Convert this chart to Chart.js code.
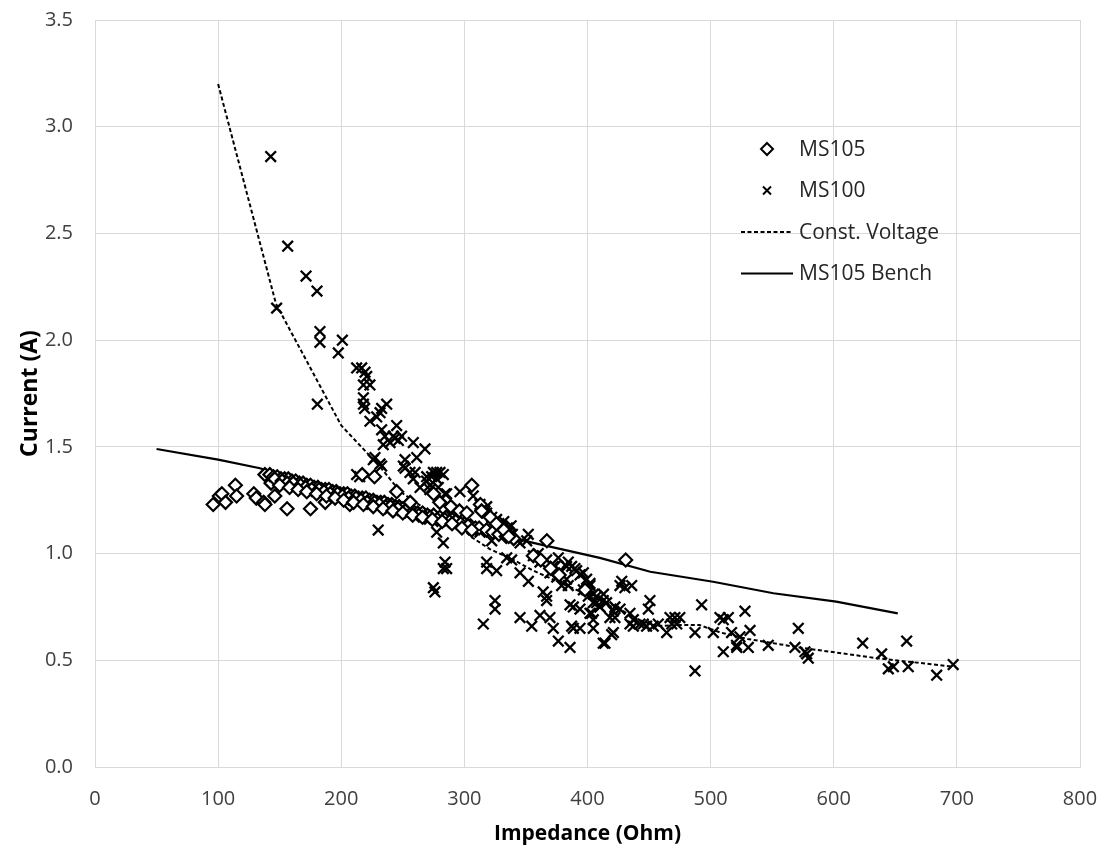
<!DOCTYPE html>
<html>
<head>
<meta charset="utf-8">
<title>Current vs Impedance</title>
<script src="https://cdn.jsdelivr.net/npm/chart.js@4.4.1/dist/chart.umd.min.js"></script>
<style>
  body { margin: 0; background: #fff; }
  #wrap { width: 1106px; height: 850px; }
</style>
</head>
<body>
<div id="wrap"><canvas id="mycanvas" width="1106" height="850"></canvas></div>
<script>
// MS105 field readings: impedance (Ohm) and current (A)
var ms105_x = [96, 101, 103, 106, 114, 115, 129, 131, 137, 138, 138, 143, 146, 156, 175, 187, 207,
  142, 145, 148, 151, 154, 157, 160, 163, 166, 169, 172, 175, 178, 181, 184, 187, 190, 193, 196, 199,
  202, 205, 208, 211, 214, 217, 220, 223, 226, 229, 232, 235, 238, 241, 244, 247, 250, 254, 258, 262,
  266, 270, 275, 280, 285, 290, 295, 300, 305,
  146, 152, 156, 161, 167, 171, 176, 182, 186, 191, 197, 201, 206, 212, 216, 221, 227, 231, 236, 240,
  246, 252, 257, 263, 268, 272, 278, 284, 288, 293, 297, 303, 309, 312, 318, 323, 328, 334, 340,
  150, 158, 165, 172, 180, 188, 195, 202, 210, 218, 226, 234, 242, 250, 258, 266, 274, 282, 290, 298, 306,
  217, 227, 245, 256, 275, 280, 289, 296, 302, 306, 313, 314, 321, 326, 332, 336,
  356, 362, 367, 370, 377, 398, 431];
var ms105_y = [1.23, 1.27, 1.28, 1.24, 1.32, 1.27, 1.28, 1.26, 1.24, 1.23, 1.37, 1.33, 1.27, 1.21, 1.21, 1.24, 1.23,
  1.37, 1.36, 1.36, 1.35, 1.35, 1.35, 1.34, 1.34, 1.33, 1.33, 1.32, 1.32, 1.31, 1.31, 1.30, 1.30, 1.30, 1.29, 1.29, 1.28,
  1.28, 1.28, 1.27, 1.27, 1.26, 1.26, 1.26, 1.25, 1.25, 1.24, 1.24, 1.24, 1.23, 1.23, 1.22, 1.22, 1.21, 1.21, 1.20, 1.19,
  1.19, 1.18, 1.18, 1.17, 1.17, 1.16, 1.15, 1.14, 1.13,
  1.35, 1.34, 1.33, 1.33, 1.32, 1.31, 1.30, 1.30, 1.29, 1.28, 1.28, 1.27, 1.26, 1.26, 1.25, 1.24, 1.24, 1.23, 1.22, 1.22,
  1.21, 1.20, 1.19, 1.18, 1.17, 1.17, 1.16, 1.16, 1.15, 1.15, 1.14, 1.13, 1.12, 1.12, 1.11, 1.10, 1.09, 1.08, 1.07,
  1.32, 1.31, 1.30, 1.29, 1.28, 1.27, 1.26, 1.25, 1.24, 1.23, 1.22, 1.21, 1.20, 1.19, 1.18, 1.17, 1.16, 1.15, 1.14, 1.12, 1.11,
  1.37, 1.36, 1.29, 1.24, 1.28, 1.24, 1.22, 1.20, 1.19, 1.32, 1.23, 1.20, 1.17, 1.14, 1.11, 1.08,
  0.99, 0.97, 1.06, 0.93, 0.90, 0.83, 0.97];

// MS100 field readings
var ms100_x = [142.7, 147.5, 156.5, 171.4, 180.3, 180.6, 182.7, 182.7, 197.6, 200.9, 212.5, 216.6, 219.3, 220.7,
  218, 223.3, 218, 218, 219, 223.3, 236.9, 232.8, 231.5, 228.8, 232.8, 235.5, 245, 243.6, 234.1, 239.6,
  242.3, 246.4, 249, 258.5, 268, 261.3, 226, 227.4, 232.8, 251.8, 251.8, 260, 277.5, 282.9, 273.4, 269.3,
  264, 285.6, 272, 278.8, 212.5, 215, 231.5, 250.4, 255.8, 258.5, 269.4, 274.8, 277.5, 272, 280.2, 284.3,
  296.4, 230, 277.5, 282.9, 284.3, 282.9, 285.6, 274.8, 276.1,
  307.2, 312.7, 316.7, 322.2, 326.2, 330.3, 334.4, 337, 318.1, 318.1, 312.7, 322.2, 328, 331, 333, 336, 339,
  335, 332, 338, 345.2, 350.6, 351.9, 318.1, 326.2, 318.1, 334.4, 338.4, 324.9, 324.9, 315.4, 345.2, 352,
  356, 361.4, 366.8, 372.2, 377.7, 364, 366.8, 361.4, 369.5, 345.2, 354.7, 372.2, 376.3, 385.8, 383, 391.2,
  396.6, 402, 385.8, 388.5, 393.9, 399.3, 404.7, 402, 388.5, 393.9, 404.7, 360, 376.3, 373.6, 369.5, 375,
  384.4, 387.1, 389.8, 393.9, 383, 379, 384.4, 366.8, 399.3, 402, 396.6, 400.6, 404.7, 407.4, 412.8, 410.1,
  415.5, 421, 418.2, 403.3, 404.7, 412.8, 421, 387.1, 427.8, 430.4, 435.9, 426.4, 413, 407.4, 410, 414.2,
  419.6, 422.3, 426.4, 422.3, 434.5, 437.2, 434.5, 437.2, 442.6, 450.7, 449.4, 445.3, 448, 453.4, 457.5,
  464.3, 467, 471, 475, 468.4, 472.5, 492.7, 487.3, 502.2, 507.6, 510.3, 514.4, 510.3, 517, 521, 527.9,
  523.8, 532, 530.6, 521.2, 546.8, 571.2, 568.5, 576.6, 579.3, 578, 623.5, 638.9, 644.3, 648.4, 659.2,
  660.5, 683.6, 697, 487.3];
var ms100_y = [2.86, 2.15, 2.44, 2.30, 2.23, 1.70, 2.04, 1.99, 1.94, 2.00, 1.87, 1.87, 1.85, 1.83,
  1.79, 1.79, 1.73, 1.70, 1.68, 1.62, 1.70, 1.68, 1.66, 1.64, 1.58, 1.55, 1.60, 1.54, 1.51, 1.52,
  1.55, 1.53, 1.55, 1.52, 1.49, 1.45, 1.44, 1.45, 1.41, 1.44, 1.40, 1.38, 1.38, 1.37, 1.36, 1.34,
  1.31, 1.28, 1.30, 1.31, 1.37, 1.36, 1.42, 1.41, 1.38, 1.35, 1.36, 1.38, 1.35, 1.32, 1.38, 1.28,
  1.29, 1.11, 1.10, 1.05, 0.96, 0.93, 0.93, 0.84, 0.82,
  1.27, 1.23, 1.20, 1.17, 1.16, 1.13, 1.10, 1.09, 1.22, 1.19, 1.10, 1.06, 1.14, 1.12, 1.11, 1.10, 1.09,
  1.12, 1.15, 1.13, 1.05, 1.06, 1.09, 0.96, 0.92, 0.93, 0.98, 0.97, 0.78, 0.74, 0.67, 0.91, 0.87,
  0.99, 0.96, 0.97, 0.94, 0.92, 0.82, 0.78, 0.71, 0.70, 0.70, 0.66, 0.65, 0.59, 0.56, 0.94, 0.92,
  0.91, 0.86, 0.76, 0.75, 0.74, 0.83, 0.77, 0.72, 0.65, 0.65, 0.65, 1.00, 0.98, 0.94, 0.91, 0.89,
  0.96, 0.94, 0.93, 0.90, 0.88, 0.85, 0.85, 0.80, 0.88, 0.85, 0.83, 0.80, 0.81, 0.80, 0.78, 0.75,
  0.77, 0.73, 0.70, 0.72, 0.69, 0.58, 0.63, 0.66, 0.87, 0.84, 0.85, 0.85, 0.81, 0.77, 0.75, 0.58,
  0.62, 0.75, 0.74, 0.70, 0.72, 0.69, 0.67, 0.66, 0.67, 0.78, 0.74, 0.67, 0.66, 0.66, 0.67,
  0.63, 0.70, 0.70, 0.70, 0.67, 0.67, 0.76, 0.63, 0.63, 0.70, 0.69, 0.70, 0.54, 0.63, 0.57, 0.73,
  0.61, 0.64, 0.56, 0.56, 0.57, 0.65, 0.56, 0.54, 0.51, 0.53, 0.58, 0.53, 0.46, 0.47, 0.59,
  0.47, 0.43, 0.48, 0.45];

// constant voltage model curve
var cv_x = [100, 147, 200, 231, 248, 268, 291, 305, 321, 340, 356, 383, 407, 424, 437, 456, 475, 491, 508, 530, 572, 635, 697];
var cv_y = [3.20, 2.17, 1.60, 1.41, 1.29, 1.21, 1.16, 1.08, 1.02, 0.97, 0.92, 0.85, 0.79, 0.75, 0.70, 0.66, 0.665, 0.665, 0.63, 0.60, 0.56, 0.51, 0.47];

// MS105 bench measurement
var bench_x = [50, 100, 134, 150, 200, 250, 300, 356, 410, 451, 502, 551, 602, 652];
var bench_y = [1.49, 1.44, 1.40, 1.37, 1.30, 1.22, 1.13, 1.05, 0.98, 0.915, 0.868, 0.814, 0.775, 0.72];

var xTicks = [0, 100, 200, 300, 400, 500, 600, 700, 800];
var yTicks = [0, 0.5, 1.0, 1.5, 2.0, 2.5, 3.0, 3.5];

function toPoints(xs, ys) {
  var pts = [];
  for (var i = 0; i < xs.length; i++) pts.push({x: xs[i], y: ys[i]});
  return pts;
}

var legendItems = [
  {label: "MS105", kind: "diamond"},
  {label: "MS100", kind: "cross"},
  {label: "Const. Voltage", kind: "dash"},
  {label: "MS105 Bench", kind: "line"}
];

// legend sits inside the plot, upper right
var boxLegend = {
  id: 'boxLegend',
  afterDraw: function(chart) {
    var ctx = chart.ctx;
    var area = chart.chartArea;
    var x0 = area.left + 646;
    var y0 = area.top + 129;
    ctx.save();
    ctx.font = "21px 'Open Sans', sans-serif";
    ctx.textBaseline = 'middle';
    ctx.textAlign = 'left';
    for (var i = 0; i < legendItems.length; i++) {
      var it = legendItems[i];
      var y = y0 + i * 41.5;
      var cx = x0 + 26;
      ctx.strokeStyle = '#000';
      ctx.lineWidth = 2;
      ctx.setLineDash([]);
      ctx.beginPath();
      if (it.kind === 'diamond') {
        ctx.moveTo(cx, y - 6); ctx.lineTo(cx + 6, y); ctx.lineTo(cx, y + 6); ctx.lineTo(cx - 6, y); ctx.closePath();
        ctx.fillStyle = '#fff'; ctx.fill();
      } else if (it.kind === 'cross') {
        ctx.moveTo(cx - 4, y - 4); ctx.lineTo(cx + 4, y + 4);
        ctx.moveTo(cx - 4, y + 4); ctx.lineTo(cx + 4, y - 4);
      } else {
        if (it.kind === 'dash') { ctx.setLineDash([4, 2.5]); }
        ctx.moveTo(x0, y); ctx.lineTo(x0 + 52, y);
      }
      ctx.stroke();
      ctx.setLineDash([]);
      ctx.fillStyle = '#262626';
      ctx.fillText(it.label, x0 + 58, y + 1);
    }
    ctx.restore();
  }
};

var ctx = document.getElementById('mycanvas');
var chart = new Chart(ctx, {
  type: 'scatter',
  data: {
    datasets: [
      {
        label: 'MS105',
        data: toPoints(ms105_x, ms105_y),
        pointStyle: 'rectRot',
        pointRadius: 6.5,
        pointBorderWidth: 2.2,
        borderColor: '#000',
        backgroundColor: '#fff',
        order: 0
      },
      {
        label: 'MS100',
        data: toPoints(ms100_x, ms100_y),
        pointStyle: 'crossRot',
        pointRadius: 7.5,
        pointBorderWidth: 2.3,
        borderColor: '#000',
        backgroundColor: '#000',
        order: 1
      },
      {
        label: 'Const. Voltage',
        data: toPoints(cv_x, cv_y),
        showLine: true,
        pointRadius: 0,
        borderColor: '#000',
        borderWidth: 2,
        borderDash: [4, 2.5],
        order: 2
      },
      {
        label: 'MS105 Bench',
        data: toPoints(bench_x, bench_y),
        showLine: true,
        pointRadius: 0,
        borderColor: '#000',
        borderWidth: 2.2,
        order: 3
      }
    ]
  },
  options: {
    responsive: false,
    animation: false,
    devicePixelRatio: 1,
    layout: { padding: { top: 20, right: 26, left: 0, bottom: 0 } },
    plugins: {
      legend: { display: false },
      tooltip: { enabled: false }
    },
    scales: {
      x: {
        type: 'linear',
        min: 0,
        max: 800,
        afterFit: function(scale) {
          scale.height = 83;
          scale.paddingLeft = 0;
          scale.paddingRight = 0;
        },
        afterBuildTicks: function(scale) { scale.ticks = xTicks.map(function(v) { return {value: v}; }); },
        grid: { color: '#d9d9d9', lineWidth: 1, drawTicks: false },
        border: { color: '#d9d9d9' },
        ticks: {
          padding: 20,
          color: '#404040',
          font: { family: "'Open Sans', sans-serif", size: 20 },
          maxRotation: 0
        },
        title: {
          display: true,
          text: 'Impedance (Ohm)',
          color: '#000',
          font: { family: "'Open Sans', sans-serif", size: 21, weight: 'bold' },
          padding: { top: 0, bottom: 3 }
        }
      },
      y: {
        type: 'linear',
        min: 0,
        max: 3.5,
        afterFit: function(scale) {
          scale.width = 95;
          scale.paddingTop = 0;
          scale.paddingBottom = 0;
        },
        afterBuildTicks: function(scale) { scale.ticks = yTicks.map(function(v) { return {value: v}; }); },
        grid: { color: '#d9d9d9', lineWidth: 1, drawTicks: false },
        border: { color: '#d9d9d9' },
        ticks: {
          padding: 22,
          color: '#404040',
          font: { family: "'Open Sans', sans-serif", size: 20 },
          callback: function(v) { return v.toFixed(1); }
        },
        title: {
          display: true,
          text: 'Current (A)',
          color: '#000',
          font: { family: "'Open Sans', sans-serif", size: 23, weight: 'bold' },
          padding: { top: 17, bottom: 0 }
        }
      }
    }
  },
  plugins: [boxLegend]
});
</script>
</body>
</html>
